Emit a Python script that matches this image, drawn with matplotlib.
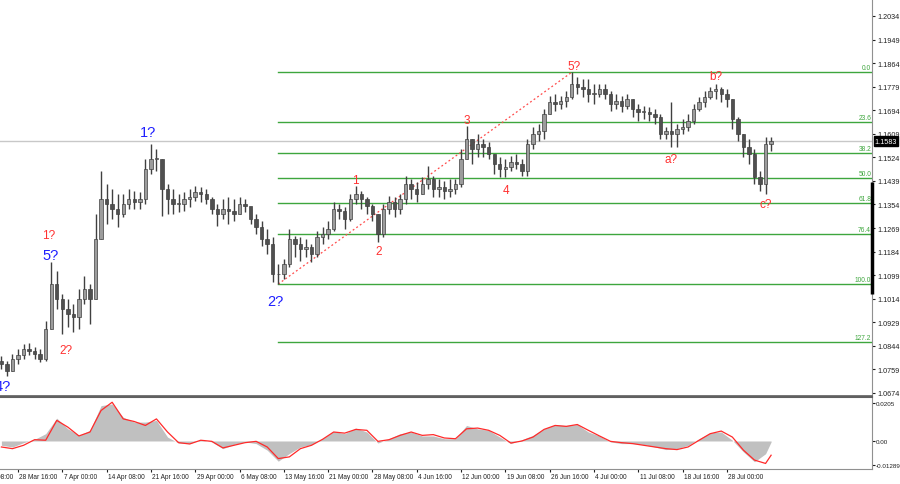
import matplotlib
matplotlib.use("Agg")
import matplotlib.pyplot as plt
import numpy as np

# ---------------- data (each candle = 4 H4 bars) ----------------
first_open = 1.0790
highs = [1.0807, 1.0789, 1.0815, 1.0833, 1.0851, 1.0854, 1.0840, 1.0833, 1.0934, 1.1147,
         1.1114, 1.1031, 1.1013, 1.0995, 1.1049, 1.1096, 1.1067, 1.1320, 1.1475, 1.1428,
         1.1410, 1.1392, 1.1392, 1.1410, 1.1403, 1.1399, 1.1518, 1.1572, 1.1554, 1.1518,
         1.1428, 1.1410, 1.1392, 1.1399, 1.1410, 1.1421, 1.1417, 1.1410, 1.1381, 1.1356,
         1.1374, 1.1381, 1.1374, 1.1381, 1.1374, 1.1338, 1.1320, 1.1294, 1.1266, 1.1237,
         1.1139, 1.1157, 1.1266, 1.1240, 1.1237, 1.1230, 1.1212, 1.1258, 1.1273, 1.1294,
         1.1363, 1.1356, 1.1345, 1.1392, 1.1421, 1.1403, 1.1381, 1.1356, 1.1320, 1.1356,
         1.1385, 1.1381, 1.1392, 1.1457, 1.1446, 1.1435, 1.1453, 1.1493, 1.1457, 1.1446,
         1.1439, 1.1446, 1.1446, 1.1554, 1.1637, 1.1590, 1.1608, 1.1590, 1.1579, 1.1536,
         1.1525, 1.1518, 1.1529, 1.1536, 1.1518, 1.1590, 1.1633, 1.1644, 1.1699, 1.1745,
         1.1753, 1.1745, 1.1763, 1.1831, 1.1814, 1.1807, 1.1807, 1.1789, 1.1789, 1.1789,
         1.1763, 1.1753, 1.1745, 1.1753, 1.1735, 1.1717, 1.1709, 1.1706, 1.1699, 1.1680,
         1.1633, 1.1724, 1.1644, 1.1662, 1.1680, 1.1717, 1.1742, 1.1763, 1.1778, 1.1789,
         1.1778, 1.1771, 1.1735, 1.1670, 1.1608, 1.1590, 1.1554, 1.1475, 1.1597, 1.1597]
lows = [1.0761, 1.0735, 1.0753, 1.0779, 1.0797, 1.0811, 1.0797, 1.0786, 1.0790, 1.0905,
        1.0977, 1.0887, 1.0912, 1.0894, 1.0905, 1.0995, 1.0923, 1.1013, 1.1230, 1.1284,
        1.1302, 1.1273, 1.1309, 1.1338, 1.1338, 1.1338, 1.1356, 1.1464, 1.1475, 1.1312,
        1.1320, 1.1320, 1.1327, 1.1330, 1.1345, 1.1367, 1.1363, 1.1356, 1.1320, 1.1276,
        1.1302, 1.1284, 1.1294, 1.1320, 1.1327, 1.1284, 1.1248, 1.1204, 1.1175, 1.1074,
        1.1067, 1.1085, 1.1128, 1.1165, 1.1150, 1.1165, 1.1147, 1.1165, 1.1212, 1.1230,
        1.1258, 1.1302, 1.1266, 1.1294, 1.1356, 1.1338, 1.1320, 1.1294, 1.1219, 1.1237,
        1.1320, 1.1309, 1.1320, 1.1356, 1.1374, 1.1363, 1.1392, 1.1410, 1.1381, 1.1381,
        1.1374, 1.1381, 1.1392, 1.1417, 1.1518, 1.1500, 1.1525, 1.1525, 1.1518, 1.1464,
        1.1453, 1.1453, 1.1475, 1.1482, 1.1457, 1.1457, 1.1554, 1.1583, 1.1590, 1.1680,
        1.1691, 1.1699, 1.1706, 1.1735, 1.1753, 1.1742, 1.1724, 1.1717, 1.1742, 1.1735,
        1.1691, 1.1699, 1.1688, 1.1699, 1.1670, 1.1655, 1.1662, 1.1655, 1.1644, 1.1590,
        1.1590, 1.1561, 1.1561, 1.1608, 1.1619, 1.1644, 1.1691, 1.1706, 1.1735, 1.1735,
        1.1724, 1.1706, 1.1626, 1.1583, 1.1525, 1.1500, 1.1428, 1.1403, 1.1392, 1.1547]
closes = [1.0779, 1.0753, 1.0797, 1.0811, 1.0833, 1.0826, 1.0815, 1.0797, 1.0905, 1.1067,
          1.1013, 1.0977, 1.0959, 1.0948, 1.1013, 1.1049, 1.1013, 1.1230, 1.1374, 1.1356,
          1.1338, 1.1320, 1.1356, 1.1374, 1.1363, 1.1374, 1.1482, 1.1518, 1.1518, 1.1410,
          1.1374, 1.1356, 1.1356, 1.1374, 1.1381, 1.1399, 1.1392, 1.1374, 1.1338, 1.1320,
          1.1338, 1.1330, 1.1320, 1.1356, 1.1349, 1.1302, 1.1273, 1.1230, 1.1212, 1.1103,
          1.1103, 1.1139, 1.1230, 1.1212, 1.1194, 1.1201, 1.1175, 1.1237, 1.1248, 1.1266,
          1.1338, 1.1330, 1.1302, 1.1374, 1.1392, 1.1374, 1.1349, 1.1320, 1.1248, 1.1338,
          1.1363, 1.1338, 1.1374, 1.1428, 1.1410, 1.1392, 1.1428, 1.1446, 1.1410, 1.1417,
          1.1403, 1.1410, 1.1428, 1.1518, 1.1590, 1.1554, 1.1572, 1.1561, 1.1536, 1.1500,
          1.1482, 1.1489, 1.1507, 1.1500, 1.1475, 1.1572, 1.1608, 1.1619, 1.1680, 1.1724,
          1.1717, 1.1727, 1.1742, 1.1789, 1.1778, 1.1771, 1.1753, 1.1753, 1.1771, 1.1753,
          1.1717, 1.1727, 1.1709, 1.1735, 1.1699, 1.1688, 1.1688, 1.1680, 1.1670, 1.1608,
          1.1619, 1.1608, 1.1626, 1.1633, 1.1655, 1.1699, 1.1724, 1.1742, 1.1763, 1.1771,
          1.1753, 1.1735, 1.1662, 1.1608, 1.1561, 1.1536, 1.1453, 1.1428, 1.1572, 1.1583]

# oscillator (sampled every 2 candles, plus last candle)
osc_idx = list(range(0, 140, 2)) + [139]
osc_hist = [-0.0023, -0.0032, -0.0009, 0.0009, 0.0039, 0.0122, 0.0065, 0.0030, 0.0057, 0.0189,
            0.0198, 0.0127, 0.0101, 0.0101, 0.0110, 0.0021, -0.0011, -0.0014, 0.0007, -0.0005,
            -0.0041, -0.0019, -0.0005, -0.0014, -0.0049, -0.0108, -0.0067, -0.0032, -0.0019, 0.0012,
            0.0051, 0.0039, 0.0069, 0.0048, -0.0011, 0.0012, 0.0039, 0.0048, 0.0027, 0.0027,
            0.0012, 0.0012, 0.0083, 0.0065, 0.0057, 0.0021, -0.0014, 0.0007, 0.0030, 0.0065,
            0.0087, 0.0083, 0.0088, 0.0048, 0.0027, -0.0005, -0.0014, -0.0014, -0.0019, -0.0032,
            -0.0046, -0.0041, -0.0023, 0.0012, 0.0044, 0.0048, 0.0004, -0.0058, -0.0111, -0.0068,
            -0.0005]
osc_signal = [-0.0032, -0.0041, -0.0023, 0.0007, 0.0004, 0.0110, 0.0074, 0.0027, 0.0048, 0.0163,
              0.0207, 0.0118, 0.0104, 0.0083, 0.0118, 0.0048, -0.0009, -0.0016, 0.0004, -0.0002,
              -0.0037, -0.0023, -0.0009, -0.0002, -0.0032, -0.0094, -0.0085, -0.0041, -0.0023, 0.0009,
              0.0048, 0.0042, 0.0062, 0.0057, -0.0002, 0.0007, 0.0030, 0.0048, 0.0030, 0.0034,
              0.0016, 0.0012, 0.0065, 0.0069, 0.0057, 0.0030, -0.0011, 0.0000, 0.0021, 0.0062,
              0.0083, 0.0078, 0.0088, 0.0057, 0.0027, -0.0002, -0.0009, -0.0014, -0.0023, -0.0032,
              -0.0041, -0.0046, -0.0032, 0.0004, 0.0039, 0.0053, 0.0021, -0.0049, -0.0102, -0.0120,
              -0.0076]

current_price = 1.1583
price_ticks = [1.2034, 1.1949, 1.1864, 1.1779, 1.1694, 1.1609, 1.1524, 1.1439, 1.1354,
               1.1269, 1.1184, 1.1099, 1.1014, 1.0929, 1.0844, 1.0759, 1.0674]
osc_ticks = [0.0205, 0.0, -0.01289]
osc_tick_labels = ["0.0205", "0.00", "-0.01289"]
date_idx = [-5, 3, 11, 19, 27, 35, 43, 51, 59, 67, 75, 83, 91, 99, 107, 115, 123, 131]
date_labels = ["21 Mar 08:00", "28 Mar 16:00", "7 Apr 00:00", "14 Apr 08:00", "21 Apr 16:00",
               "29 Apr 00:00", "6 May 08:00", "13 May 16:00", "21 May 00:00", "28 May 08:00",
               "4 Jun 16:00", "12 Jun 00:00", "19 Jun 08:00", "26 Jun 16:00", "4 Jul 00:00",
               "11 Jul 08:00", "18 Jul 16:00", "28 Jul 00:00"]
fib_levels = [0.0, 23.6, 38.2, 50.0, 61.8, 76.4, 100.0, 127.2]
fib_start, fib_end = 50, 103

wave_labels = [  # (text, candle index, price, colour)
    ("4?", 0.3, 1.0699, "blue"), ("5?", 8.8, 1.1172, "blue"), ("1?", 8.6, 1.1244, "red"),
    ("2?", 11.7, 1.0829, "red"), ("1?", 26.4, 1.1616, "blue"), ("2?", 49.5, 1.1006, "blue"),
    ("1", 63.9, 1.1442, "red"), ("2", 68.2, 1.1186, "red"), ("3", 84.0, 1.1659, "red"),
    ("4", 91.1, 1.1406, "red"), ("5?", 103.4, 1.1854, "red"), ("a?", 121.0, 1.1518, "red"),
    ("b?", 129.0, 1.1818, "red"), ("c?", 138.1, 1.1356, "red"),
]

# ---------------- figure ----------------
W, H = 900, 485
plt.rcParams["font.family"] = ["Liberation Sans", "DejaVu Sans"]
fig = plt.figure(figsize=(W / 100, H / 100), dpi=100)
fig.patch.set_facecolor("white")

ax = fig.add_axes([0, 1 - 397 / H, 872 / W, 397 / H])
ox = fig.add_axes([0, 1 - 469.5 / H, 872 / W, 71.5 / H])

x0, x1 = -0.2528, 157.22
n = len(closes)
idx = np.arange(n)
opens = np.array([first_open] + closes[:-1])
c = np.array(closes)
hi = np.array(highs)
lo = np.array(lows)

# current price line
ax.axhline(current_price, color="#c8c8c8", lw=1, zorder=1)

# fib
f_lo = lows[fib_start]
f_hi = highs[fib_end]
for lv in fib_levels:
    p = f_hi - (f_hi - f_lo) * lv / 100.0
    ax.plot([fib_start, x1], [p, p], color="#3ea63e", lw=1, zorder=2)
    ax.text(x1 - 0.15, p + 0.0003, f"{lv:.1f}", color="#3ea63e", fontsize=4.8,
            ha="right", va="bottom", zorder=3)
ax.plot([fib_start, fib_end], [f_lo, f_hi], color="#ff4a4a", lw=0.9, ls=(0, (1.5, 2)), zorder=2)

# candles
ax.vlines(idx, lo, hi, color="#404040", lw=1.0, zorder=4)
up = c >= opens
bw = 0.62
ax.bar(idx[up], np.maximum((c - opens)[up], 0.0002), bottom=opens[up], width=bw, color="#9c9c9c",
       edgecolor="#404040", linewidth=0.5, zorder=5)
ax.bar(idx[~up], (opens - c)[~up], bottom=c[~up], width=bw, color="#505050",
       edgecolor="#404040", linewidth=0.5, zorder=5)

# wave labels
for txt, xi, pr, col in wave_labels:
    colour = "#1f1fff" if col == "blue" else "#ff3030"
    fs = 10.5 if col == "blue" else 8.5
    ax.text(xi, pr, txt, color=colour, fontsize=fs, ha="center", va="center", zorder=6)

ax.set_xlim(x0, x1)
ymax = 1.20953
ymin = ymax - 397 * 0.00036074
ax.set_ylim(ymin, ymax)
ax.set_xticks([])
ax.yaxis.tick_right()
ax.set_yticks(price_ticks)
ax.set_yticklabels([f"{t:.4f}" for t in price_ticks])
ax.tick_params(axis="y", length=2.5, width=0.8, colors="#202020", labelsize=5.2, pad=1.5)
for s in ["left", "top"]:
    ax.spines[s].set_visible(False)
ax.spines["right"].set_color("#909090")
ax.spines["bottom"].set_color("#606060")
ax.spines["bottom"].set_linewidth(1.2)

# black bar on right axis
ax.plot([x1, x1], [1.1031, 1.1436], color="black", lw=2.5, solid_capstyle="butt",
        clip_on=False, zorder=7)
# current price tag
ax.text(1.003, (current_price - ymin) / (ymax - ymin), f"{current_price:.4f}",
        transform=ax.transAxes, fontsize=5.2, color="white", ha="left", va="center",
        bbox=dict(boxstyle="square,pad=0.15", fc="black", ec="black"), zorder=8, clip_on=False)

# oscillator
oi = np.array(osc_idx)
ox.fill_between(oi, 0, osc_hist, color="#c0c0c0", lw=0, zorder=2)
ox.plot(oi, osc_signal, color="#ff2a2a", lw=0.9, zorder=3)
ox.set_xlim(x0, x1)
o_top = 0.0235
o_bot = -0.0147
ox.set_ylim(o_bot, o_top)
ox.yaxis.tick_right()
ox.set_yticks(osc_ticks)
ox.set_yticklabels(osc_tick_labels)
ox.tick_params(axis="y", length=2.0, width=0.8, colors="#202020", labelsize=4.5, pad=0.8)
vis = [k for k in date_idx if x0 <= k <= x1]
ox.set_xticks(vis)
ox.set_xticklabels([])
ox.tick_params(axis="x", length=2.5, width=0.8, colors="#202020")
xt = ox.get_xaxis_transform()
for k, lab in zip(date_idx, date_labels):
    ox.text(k + 0.25, -0.105, lab, transform=xt, fontsize=4.7, color="#202020",
            ha="left", va="center", clip_on=False)
ox.spines["left"].set_visible(False)
ox.spines["top"].set_color("#606060")
ox.spines["top"].set_linewidth(1.5)
ox.spines["right"].set_color("#909090")
ox.spines["bottom"].set_color("#909090")

fig.savefig("out.png", dpi=100, facecolor="white")
